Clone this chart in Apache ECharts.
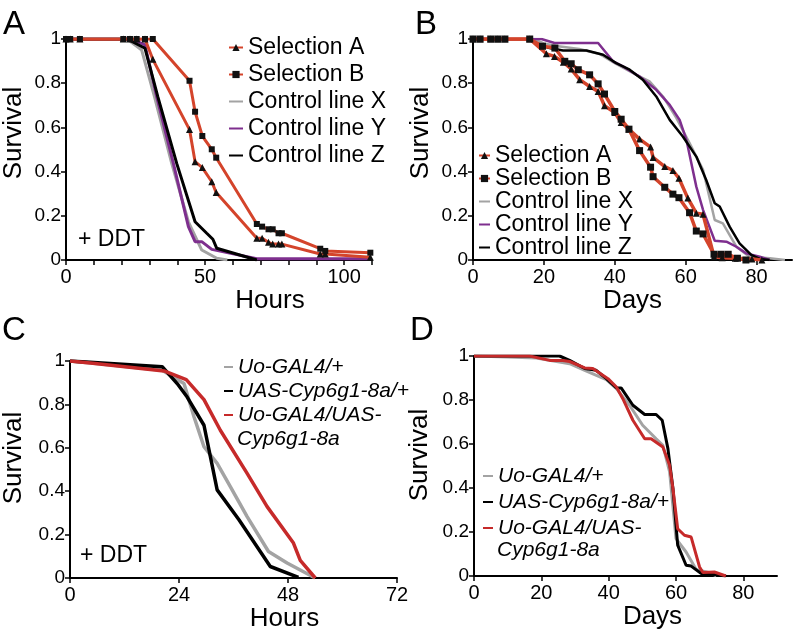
<!DOCTYPE html>
<html><head><meta charset="utf-8">
<script src="https://cdn.jsdelivr.net/npm/echarts@6/dist/echarts.min.js"></script>
<style>html,body{margin:0;padding:0;background:#fff}#c{width:796px;height:633px}</style>
</head><body><div id="c"></div>
<script>
// ---------- Panel A (+ DDT, hours) ----------
const aSelHours = [0, 1.5, 5, 20.6, 23, 25.4, 28.4, 31.2, 44.4, 46.4, 49, 52.4, 54, 68.6, 70.5, 72.8, 74.3, 76.4, 77.6, 91.4, 93.2, 109.4];
const aSelA = [1, 1, 1, 1, 1, 1, 1, 0.908, 0.59, 0.445, 0.418, 0.354, 0.305, 0.098, 0.098, 0.080, 0.072, 0.072, 0.072, 0.027, 0.027, 0.012];
const aSelB = [1, 1, 1, 1, 1, 1, 1, 1, 0.811, 0.671, 0.561, 0.501, 0.463, 0.163, 0.151, 0.139, 0.139, 0.121, 0.121, 0.051, 0.041, 0.033];
const aCtrlXHours = [0, 22, 27.2, 31.8, 38, 44, 48.8, 54.2, 58];
const aCtrlX = [1, 1, 0.95, 0.739, 0.437, 0.173, 0.045, 0.008, 0];
const aCtrlYHours = [0, 23.6, 28.4, 32.6, 38.6, 44, 46.4, 48.8, 52.4, 68.6, 109.4];
const aCtrlY = [1, 1, 0.973, 0.739, 0.437, 0.151, 0.083, 0.083, 0.048, 0.006, 0.006];
const aCtrlZHours = [0, 22, 28.4, 33, 39.8, 46.4, 50.6, 52.8, 54.2, 68.6];
const aCtrlZ = [1, 1, 0.958, 0.739, 0.437, 0.173, 0.121, 0.094, 0.053, 0];

// ---------- Panel B (lifespan, days) ----------
const bSelADays = [0, 2, 5, 7, 9, 16, 20.7, 23, 25.5, 27.7, 30.1, 32.9, 35.3, 37.1, 40, 41.8, 44, 47, 50.1, 50.8, 54.1, 56.4, 58.1, 60.6, 63, 64.9, 68, 70.3, 74, 78.7, 81.5];
const bSelA = [1, 1, 1, 1, 1, 1, 0.933, 0.921, 0.895, 0.864, 0.816, 0.785, 0.763, 0.698, 0.667, 0.622, 0.592, 0.547, 0.511, 0.464, 0.423, 0.405, 0.37, 0.28, 0.212, 0.207, 0.015, 0.01, 0.008, 0.004, 0];
const bSelBDays = [0, 2, 5, 7, 9, 16, 19.6, 23.1, 25.9, 27.7, 29.7, 32.9, 35.3, 37.1, 40, 41.8, 44, 47, 50.1, 50.8, 54.1, 56.4, 58.1, 61.1, 63, 64.9, 68, 70, 72, 74.6, 77];
const bSelB = [1, 1, 1, 1, 1, 1, 0.967, 0.959, 0.899, 0.888, 0.861, 0.838, 0.797, 0.751, 0.672, 0.637, 0.592, 0.495, 0.42, 0.377, 0.329, 0.298, 0.282, 0.214, 0.131, 0.118, 0.026, 0.026, 0.026, 0.008, 0];
const bCtrlXDays = [0, 17, 20, 23.5, 30, 35.7, 40, 46.1, 49.8, 53.6, 57.4, 61.1, 64.9, 68.2, 70.5, 74.3, 78, 83.7, 88];
const bCtrlX = [1, 1, 0.98, 0.968, 0.955, 0.932, 0.891, 0.838, 0.808, 0.74, 0.642, 0.529, 0.408, 0.181, 0.166, 0.06, 0.015, 0.008, 0];
const bCtrlYDays = [0, 19.3, 23, 35.3, 39.5, 42.3, 47, 51.7, 55.5, 58.3, 60.2, 63, 64.9, 68.2, 71.5, 74.3, 77.1, 80.9, 83.7];
const bCtrlY = [1, 1, 0.982, 0.982, 0.899, 0.876, 0.83, 0.77, 0.702, 0.634, 0.544, 0.332, 0.227, 0.087, 0.083, 0.06, 0.03, 0.015, 0];
const bCtrlZDays = [0, 15.8, 19.3, 21.6, 25.4, 32, 36.7, 40.4, 44.2, 47.9, 51.7, 55.5, 59.2, 63, 65.8, 68.2, 69.6, 72.4, 75.2, 78.5, 80.9, 83.7];
const bCtrlZ = [1, 1, 0.97, 0.959, 0.948, 0.948, 0.929, 0.891, 0.861, 0.816, 0.74, 0.634, 0.559, 0.468, 0.362, 0.257, 0.242, 0.151, 0.075, 0.023, 0.005, 0];

// ---------- Panel C (+ DDT, hours) ----------
const cGalHours = [0, 5.3, 20.3, 25.1, 27.3, 29.5, 32.4, 35.3, 39, 43.7, 47.8, 54];
const cGal = [1, 0.99, 0.957, 0.896, 0.743, 0.605, 0.528, 0.421, 0.283, 0.122, 0.069, 0];
const cUasHours = [0, 20.3, 23.6, 25.8, 29.5, 32.4, 37.2, 44.1, 50.3];
const cUas = [1, 0.974, 0.896, 0.834, 0.704, 0.406, 0.268, 0.053, 0.003];
const cBothHours = [0, 5, 20.7, 25.6, 29.5, 33.1, 39, 43.4, 49.2, 50.7, 54];
const cBoth = [1, 0.99, 0.954, 0.914, 0.822, 0.681, 0.482, 0.329, 0.161, 0.081, 0];

// ---------- Panel D (lifespan, days) ----------
const dGalDays = [0, 10, 18.5, 28.4, 32.9, 39.3, 42.3, 46.2, 50.1, 54.1, 56.1, 58.1, 60, 63, 66, 70, 72];
const dGal = [1, 0.995, 0.991, 0.965, 0.935, 0.893, 0.852, 0.776, 0.685, 0.624, 0.594, 0.473, 0.17, 0.109, 0.03, 0.015, 0];
const dUasDays = [0, 25.4, 28.4, 32.9, 36.3, 39.3, 42.3, 43.7, 47.2, 50.7, 54.1, 55.9, 57.6, 59.1, 60.5, 63, 64.5, 67.5, 71.9, 74.8];
const dUas = [1, 1, 0.98, 0.943, 0.935, 0.897, 0.855, 0.855, 0.776, 0.734, 0.734, 0.708, 0.579, 0.397, 0.14, 0.049, 0.045, 0.011, 0.006, 0];
const dBothDays = [0, 16.5, 22.5, 26.4, 28.4, 32.9, 35.3, 39.8, 42.3, 44.2, 47.2, 50.7, 52.6, 56.1, 58.1, 59.1, 60.5, 62.5, 64.5, 67, 68, 71.4, 74.8];
const dBoth = [1, 1, 0.98, 0.98, 0.975, 0.946, 0.943, 0.897, 0.859, 0.806, 0.708, 0.624, 0.624, 0.586, 0.503, 0.397, 0.215, 0.185, 0.177, 0.041, 0.016, 0.018, 0];

// tick labels
const aXLabels = [0, 50, 100];
const bXTicks = [0, 20, 40, 60, 80];
const cXTicks = [0, 24, 48, 72];
const dXTicks = [0, 20, 40, 60, 80];

const pairs = (xs, ys) => xs.map((x, i) => [x, ys[i]]);
const FONT = "'Liberation Sans', Arial, Helvetica, sans-serif";
const RED = '#d4442b', RED2 = '#c62a2a', GRAY = '#a3a3a3', PURPLE = '#7e2f8e', BLACK = '#000';

const chart = echarts.init(document.getElementById('c'), null, {renderer: 'canvas'});

function yAxis(gi, gap, pad) {
  return {
    type: 'value', gridIndex: gi, min: 0, max: 1, interval: 0.2,
    axisLine: {show: true, lineStyle: {color: BLACK, width: 2}},
    axisTick: {show: true, length: 5, lineStyle: {color: BLACK, width: 1.5}},
    axisLabel: {color: BLACK, fontSize: 19, fontFamily: FONT, margin: 5,
      formatter: v => String(Math.round(v * 10) / 10)},
    splitLine: {show: false},
    name: 'Survival', nameLocation: 'middle', nameGap: gap,
    nameTextStyle: {color: BLACK, fontSize: 26, fontFamily: FONT, padding: [0, 0, 0, pad]}
  };
}
function xAxisBase(gi, name, gap, pad, extra) {
  return Object.assign({
    type: 'value', gridIndex: gi, min: 0,
    axisLine: {show: true, onZero: false, lineStyle: {color: BLACK, width: 2}},
    axisTick: {show: true, length: 5, lineStyle: {color: BLACK, width: 1.5}},
    axisLabel: {color: BLACK, fontSize: 20, fontFamily: FONT, margin: 7},
    splitLine: {show: false},
    name: name, nameLocation: 'middle', nameGap: gap,
    nameTextStyle: {color: BLACK, fontSize: 26, fontFamily: FONT, padding: [0, 0, 0, pad]}
  }, extra);
}

function lineS(name, gi, data, color, width, z, sym, symSize) {
  return {
    name: name, type: 'line', xAxisIndex: gi, yAxisIndex: gi, data: data,
    symbol: sym || 'none', symbolSize: symSize || 0, showSymbol: !!sym,
    itemStyle: {color: sym ? '#111' : color},
    lineStyle: {color: color, width: width},
    z: z, animation: false, silent: true
  };
}
// legend entry for a plain line (no marker in the icon)
const plain = n => ({name: n, itemStyle: {opacity: 0}});

const legendText = (size, italic, lh) => ({color: BLACK, fontSize: size, fontFamily: FONT, fontStyle: italic ? 'italic' : 'normal', lineHeight: lh});

const option = {
  backgroundColor: '#fff',
  animation: false,
  grid: [
    {left: 66, top: 39, width: 306, height: 221},
    {left: 473, top: 39, width: 319, height: 221},
    {left: 69, top: 361, width: 328, height: 217},
    {left: 474, top: 356, width: 303, height: 220}
  ],
  xAxis: [
    xAxisBase(0, 'Hours', 27, 102, {max: 110, interval: 10,
      axisLabel: {color: BLACK, fontSize: 20, fontFamily: FONT, margin: 7, customValues: aXLabels}}),
    xAxisBase(1, 'Days', 27, 0, {max: 90, interval: 10,
      axisTick: {show: true, length: 5, lineStyle: {color: BLACK, width: 1.5}, customValues: bXTicks},
      axisLabel: {color: BLACK, fontSize: 20, fontFamily: FONT, margin: 7, customValues: bXTicks}}),
    xAxisBase(2, 'Hours', 20, 102, {max: 72, interval: 24,
      axisTick: {show: true, length: 5, lineStyle: {color: BLACK, width: 1.5}, customValues: cXTicks},
      axisLabel: {color: BLACK, fontSize: 20, fontFamily: FONT, margin: 7, customValues: cXTicks}}),
    xAxisBase(3, 'Days', 19, 54, {max: 90, interval: 10,
      axisTick: {show: true, length: 5, lineStyle: {color: BLACK, width: 1.5}, customValues: dXTicks},
      axisLabel: {color: BLACK, fontSize: 20, fontFamily: FONT, margin: 7, customValues: dXTicks}})
  ],
  yAxis: [yAxis(0, 39, 33), yAxis(1, 39, 33), yAxis(2, 43, 23), yAxis(3, 41, 22)],
  legend: [
    {data: ['Selection A', 'Selection B', plain('Control line X'), plain('Control line Y'), plain('Control line Z')],
     orient: 'vertical', left: 228, top: 34, padding: 0, itemGap: 0, itemWidth: 14, itemHeight: 9,
     textStyle: legendText(23, false, 27), selectedMode: false},
    {data: ['Selection A ', 'Selection B ', plain('Control line X '), plain('Control line Y '), plain('Control line Z ')],
     orient: 'vertical', left: 478, top: 144, padding: 0, itemGap: 0, itemWidth: 11, itemHeight: 9,
     textStyle: legendText(23, false, 22), selectedMode: false,
     formatter: n => n.trim()},
    {data: [plain('Uo-GAL4/+'), plain('UAS-Cyp6g1-8a/+'), plain('Uo-GAL4/UAS-Cyp6g1-8a')],
     orient: 'vertical', left: 223, top: 355, padding: 0, itemGap: 0, itemWidth: 9, itemHeight: 6,
     textStyle: legendText(21, true, 24), selectedMode: false,
     formatter: n => n === 'Uo-GAL4/UAS-Cyp6g1-8a' ? 'Uo-GAL4/UAS-' : n},
    {data: [plain('Uo-GAL4/+ '), plain('UAS-Cyp6g1-8a/+ '), plain('Uo-GAL4/UAS-Cyp6g1-8a ')],
     orient: 'vertical', left: 482, top: 463, padding: 0, itemGap: 0, itemWidth: 10, itemHeight: 6,
     textStyle: legendText(21, true, 26), selectedMode: false,
     formatter: n => n.trim() === 'Uo-GAL4/UAS-Cyp6g1-8a' ? 'Uo-GAL4/UAS-' : n.trim()}
  ],
  graphic: [
    {type: 'text', style: {text: 'A', x: 3, y: 25, fontSize: 33, fontFamily: FONT, fill: BLACK, verticalAlign: 'middle'}},
    {type: 'text', style: {text: 'B', x: 415, y: 25, fontSize: 33, fontFamily: FONT, fill: BLACK, verticalAlign: 'middle'}},
    {type: 'text', style: {text: 'C', x: 2, y: 331, fontSize: 33, fontFamily: FONT, fill: BLACK, verticalAlign: 'middle'}},
    {type: 'text', style: {text: 'D', x: 410, y: 331, fontSize: 33, fontFamily: FONT, fill: BLACK, verticalAlign: 'middle'}},
    {type: 'text', style: {text: '+ DDT', x: 78, y: 240, fontSize: 23, fontFamily: FONT, fill: BLACK, verticalAlign: 'middle'}},
    {type: 'text', style: {text: '+ DDT', x: 80, y: 556, fontSize: 23, fontFamily: FONT, fill: BLACK, verticalAlign: 'middle'}},
    {type: 'text', style: {text: 'Cyp6g1-8a', x: 237, y: 439, fontSize: 21, fontStyle: 'italic', fontFamily: FONT, fill: BLACK, verticalAlign: 'middle'}},
    {type: 'text', style: {text: 'Cyp6g1-8a', x: 497, y: 550, fontSize: 21, fontStyle: 'italic', fontFamily: FONT, fill: BLACK, verticalAlign: 'middle'}}
  ],
  series: [
    // A
    lineS('Control line X', 0, pairs(aCtrlXHours, aCtrlX), GRAY, 3, 2),
    lineS('Control line Y', 0, pairs(aCtrlYHours, aCtrlY), PURPLE, 3, 3),
    lineS('Control line Z', 0, pairs(aCtrlZHours, aCtrlZ), BLACK, 3, 4),
    lineS('Selection A', 0, pairs(aSelHours, aSelA), RED, 3, 5, 'triangle', 7),
    lineS('Selection B', 0, pairs(aSelHours, aSelB), RED, 3, 6, 'rect', 6),
    // B
    lineS('Control line X ', 1, pairs(bCtrlXDays, bCtrlX), GRAY, 2.5, 2),
    lineS('Control line Y ', 1, pairs(bCtrlYDays, bCtrlY), PURPLE, 2.5, 3),
    lineS('Control line Z ', 1, pairs(bCtrlZDays, bCtrlZ), BLACK, 2.5, 4),
    lineS('Selection A ', 1, pairs(bSelADays, bSelA), RED, 3.5, 5, 'triangle', 7),
    lineS('Selection B ', 1, pairs(bSelBDays, bSelB), RED, 3.5, 6, 'rect', 7),
    // C
    lineS('Uo-GAL4/+', 2, pairs(cGalHours, cGal), GRAY, 3.5, 2),
    lineS('UAS-Cyp6g1-8a/+', 2, pairs(cUasHours, cUas), BLACK, 3.5, 3),
    lineS('Uo-GAL4/UAS-Cyp6g1-8a', 2, pairs(cBothHours, cBoth), RED2, 3.5, 4),
    // D
    lineS('Uo-GAL4/+ ', 3, pairs(dGalDays, dGal), GRAY, 3, 2),
    lineS('UAS-Cyp6g1-8a/+ ', 3, pairs(dUasDays, dUas), BLACK, 3, 3),
    lineS('Uo-GAL4/UAS-Cyp6g1-8a ', 3, pairs(dBothDays, dBoth), RED2, 3, 4)
  ]
};
chart.setOption(option);
</script>
</body></html>
